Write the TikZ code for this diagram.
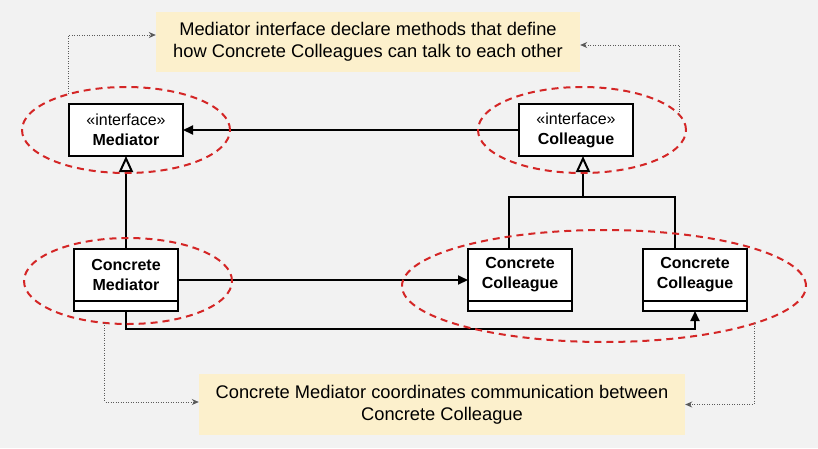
\documentclass[tikz,border=0pt]{standalone}
\usepackage{fontspec}
\setmainfont{Liberation Sans}
\usepackage{tikz}
\usetikzlibrary{positioning,calc,arrows.meta,shapes.geometric}
\definecolor{canvasgray}{RGB}{242,242,242}
\definecolor{notefill}{RGB}{252,240,204}
\definecolor{markred}{RGB}{212,38,38}
\definecolor{linkgray}{RGB}{90,90,90}

\begin{document}
\begin{tikzpicture}[x=1pt,y=-1pt,
  cls/.style={draw,line width=1.2pt,fill=white,align=center,inner sep=0pt,outer sep=0pt,
              font=\fontsize{16}{20}\selectfont,minimum width=#1,minimum height=52pt},
  cls/.default=104pt,
  concrete/.style={cls,font=\fontsize{16}{20}\selectfont\bfseries},
  comp/.style={draw,line width=1.2pt,fill=white,inner sep=0pt,outer sep=0pt,
               minimum width=104pt,minimum height=10pt},
  note/.style={fill=notefill,align=center,inner sep=0pt,font=\fontsize{18.3}{22}\selectfont},
  grp/.style={ellipse,draw=markred,line width=2pt,dash pattern=on 7pt off 5pt,
              inner sep=0pt,outer sep=0pt},
  line/.style={line width=2pt},
  arr/.style={line,-{Triangle[length=10pt,width=9pt]}},
  gen/.style={line,-{Triangle[open,length=16pt,width=14pt]}},
  link/.style={draw=linkgray,line width=0.9pt,dash pattern=on 1pt off 1.5pt,
               -{Stealth[length=7pt,width=6pt]}}]
  \fill[canvasgray] (0,0) rectangle (818,448);
  % notes
  \node[note,minimum width=424pt,minimum height=60pt] (n1) at (368,42)
    {Mediator interface declare methods that define\\how Concrete Colleagues can talk to each other};
  \node[note,minimum width=486pt,minimum height=61pt] (n2) at (442,404.5)
    {Concrete Mediator coordinates communication between\\Concrete Colleague};
  % classes
  \node[cls=114pt] (med) at (126,130) {«interface»\\\textbf{Mediator}};
  \node[cls=114pt] (col) at (576,130) {«interface»\\\textbf{Colleague}};
  \node[concrete] (cm) at (126,275) {Concrete\\Mediator};
  \node[comp,below=0pt of cm] (cmx) {};
  \node[concrete] (cc1) at (520,275) {Concrete\\Colleague};
  \node[comp,below=0pt of cc1] (cc1x) {};
  \node[concrete] (cc2) at (695,275) {Concrete\\Colleague};
  \node[comp,below=0pt of cc2] (cc2x) {};
  % relations
  \draw[arr] (col.west) -- (med.east);
  \draw[gen] (cm.north) -- (med.south);
  \coordinate (join) at (583,197);
  \draw[line] ([xshift=-11pt]cc1.north) |- (join) -| ([xshift=-20pt]cc2.north);
  \draw[gen] (join) -- (join |- col.south);
  \draw[arr] ($(cm.north east)!.5!(cmx.south east)$) -- ($(cc1.north west)!.5!(cc1x.south west)$);
  \coordinate (low) at (0,329);
  \draw[arr] (cmx.south) -- (cmx.south |- low) -| (cc2x.south);
  % highlight rings
  \node[grp,minimum width=208pt,minimum height=86pt] (gmed) at (126,130) {};
  \node[grp,minimum width=208pt,minimum height=86pt] (gcol) at (582,130) {};
  \node[grp,minimum width=208pt,minimum height=86pt] (gcm) at (128,281) {};
  \node[grp,minimum width=404pt,minimum height=112pt] (gcc) at (604,286) {};
  % note links
  \draw[link] (gmed.148) |- ([yshift=7pt]n1.west);
  \draw[link] (gcol.9) |- ([yshift=-3pt]n1.east);
  \draw[link] (gcm.241) |- ([yshift=2.5pt]n2.west);
  \draw[link] (gcc.346) |- (n2.east);
\end{tikzpicture}
\end{document}
